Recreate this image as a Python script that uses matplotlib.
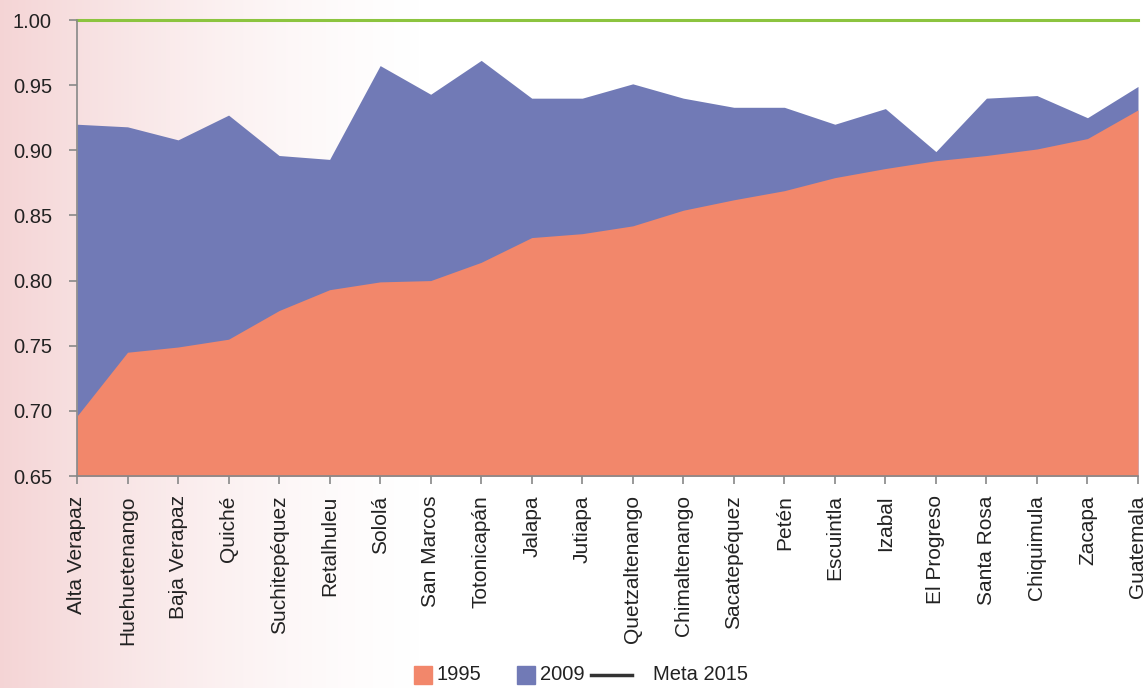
import numpy as np
import matplotlib.pyplot as plt
from matplotlib.patches import Rectangle
from matplotlib.lines import Line2D

plt.rcParams['font.family'] = ['Liberation Sans', 'DejaVu Sans']

# Departments and values
departments = ['Alta Verapaz', 'Huehuetenango', 'Baja Verapaz', 'Quiché', 'Suchitepéquez',
               'Retalhuleu', 'Sololá', 'San Marcos', 'Totonicapán', 'Jalapa', 'Jutiapa',
               'Quetzaltenango', 'Chimaltenango', 'Sacatepéquez', 'Petén', 'Escuintla',
               'Izabal', 'El Progreso', 'Santa Rosa', 'Chiquimula', 'Zacapa', 'Guatemala']
v1995 = [0.696, 0.745, 0.749, 0.755, 0.777, 0.793, 0.799, 0.800, 0.814, 0.833, 0.836,
         0.842, 0.854, 0.862, 0.869, 0.879, 0.886, 0.892, 0.896, 0.901, 0.909, 0.931]
v2009 = [0.920, 0.918, 0.908, 0.927, 0.896, 0.893, 0.965, 0.943, 0.969, 0.940, 0.940,
         0.951, 0.940, 0.933, 0.933, 0.920, 0.932, 0.899, 0.940, 0.942, 0.925, 0.949]
meta = 1.00
yticks = [0.65, 0.70, 0.75, 0.80, 0.85, 0.90, 0.95, 1.00]

c1995 = '#f2876b'
c2009 = '#717ab6'
cmeta = '#8cc43f'

W, H = 1147, 688
fig = plt.figure(figsize=(W / 100, H / 100), dpi=100)

# Pink gradient background on the left
bg = fig.add_axes([0, 0, 1, 1], zorder=-10)
alpha = np.clip(1 - np.arange(W) / 430.0, 0, 1) ** 1.5
grad = np.ones((1, W, 4))
grad[..., 0] = 244 / 255
grad[..., 1] = 210 / 255
grad[..., 2] = 211 / 255
grad[..., 3] = alpha * 0.95
bg.imshow(grad, aspect='auto', extent=[0, 1, 0, 1])
bg.axis('off')

ax = fig.add_axes([77 / W, 1 - 476 / H, (1138 - 77) / W, (476 - 20) / H])
ax.patch.set_alpha(0)

x = np.arange(len(departments))
ax.fill_between(x, 0.65, v2009, color=c2009, linewidth=0)
ax.fill_between(x, 0.65, v1995, color=c1995, linewidth=0)
ax.axhline(meta, color=cmeta, linewidth=2.2, clip_on=False)

ax.set_xlim(0, len(departments) - 1)
ax.set_ylim(0.65, 1.0)
ax.set_yticks(yticks)
ax.set_yticklabels([f'{t:.2f}' for t in yticks])
ax.set_xticks(x)
ax.set_xticklabels(departments, rotation=90)

for s in ['top', 'right']:
    ax.spines[s].set_visible(False)
for s in ['left', 'bottom']:
    ax.spines[s].set_color('#888888')
    ax.spines[s].set_linewidth(1.2)
ax.tick_params(axis='both', colors='#888888', labelcolor='#222222',
               length=6, width=1.2)
ax.tick_params(axis='y', labelsize=14.5, pad=12)
ax.tick_params(axis='x', labelsize=15, pad=8)

# Legend drawn in figure pixels
def fx(px):
    return px / W

def fy(py):
    return 1 - py / H

ly = 675
fig.patches.append(Rectangle((fx(414), fy(ly + 9)), 18 / W, 18 / H, color=c1995,
                             transform=fig.transFigure, figure=fig))
fig.text(fx(437), fy(ly), '1995', fontsize=14.5, va='center', color='#222222')
fig.patches.append(Rectangle((fx(517), fy(ly + 9)), 18 / W, 18 / H, color=c2009,
                             transform=fig.transFigure, figure=fig))
fig.text(fx(540), fy(ly), '2009', fontsize=14.5, va='center', color='#222222')
fig.lines.append(Line2D([fx(591), fx(632)], [fy(ly), fy(ly)], color='#333333',
                        linewidth=2.5, transform=fig.transFigure, figure=fig))
fig.text(fx(653), fy(ly), 'Meta 2015', fontsize=14.5, va='center', color='#222222')

fig.savefig('out.png', dpi=100)
